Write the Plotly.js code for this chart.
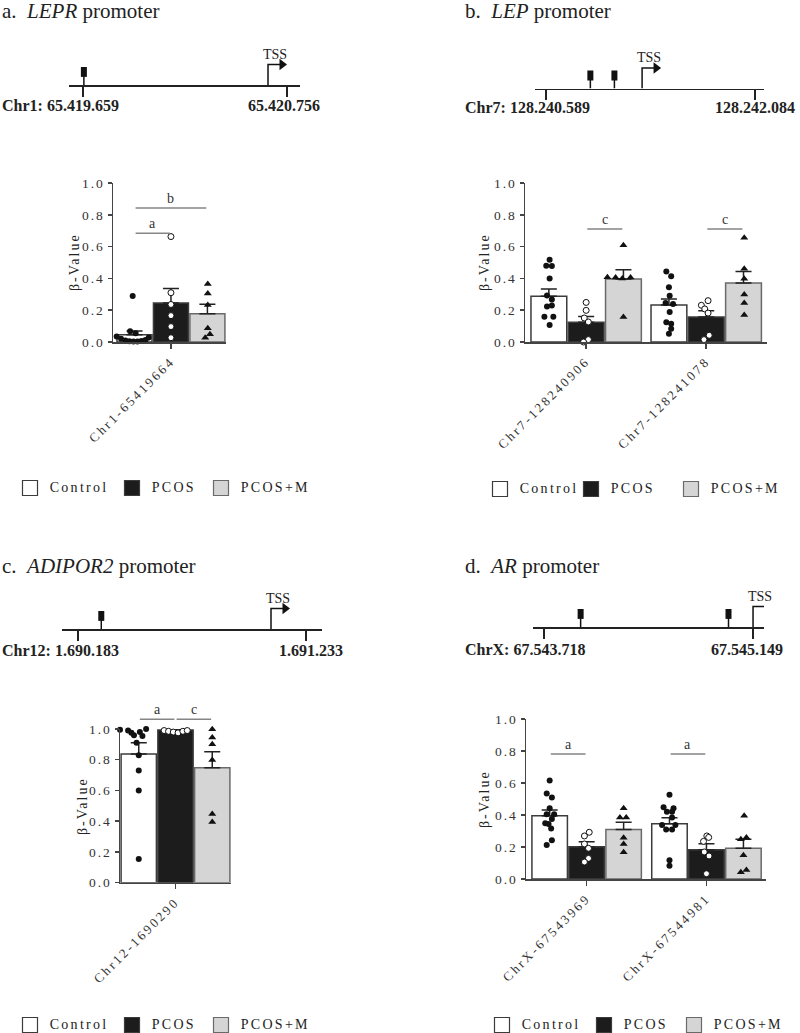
<!DOCTYPE html>
<html>
<head>
<meta charset="utf-8">
<script src="https://cdn.plot.ly/plotly-3.0.1.min.js"></script>
<style>
  body { margin: 0; background: #fff; }
  #fig { width: 800px; height: 1033px; }
  #fig .xaxislayer-above text { letter-spacing: 2.5px; }
  #fig .yaxislayer-above text { letter-spacing: 2px; }
  #fig g.textpoint text { letter-spacing: 2.3px; }
  #fig .annotation[data-index="0"] .annotation-text,
  #fig .annotation[data-index="1"] .annotation-text,
  #fig .annotation[data-index="2"] .annotation-text,
  #fig .annotation[data-index="3"] .annotation-text { letter-spacing: 2px; }
</style>
</head>
<body>
<div id="fig"></div>
<script>
// groups, in drawing order
var groups = ['Control', 'PCOS', 'PCOS+M'];

// a. LEPR  (arrays are [group][site])
var leprSites = ['Chr1-65419664'];
var leprMean = [[0.045], [0.245], [0.177]];
var leprSem  = [[0.024], [0.092], [0.060]];
var leprPts = [
  [[0.29, 0.067, 0.055, 0.035, 0.02, 0.01, 0.005, 0.003, 0.003, 0.006, 0.012, 0.028]],
  [[0.663, 0.31, 0.236, 0.166, 0.097, 0.027]],
  [[0.364, 0.305, 0.232, 0.086, 0.048, 0.027]]
];
var leprJit = [
  [[-0.05, -0.12, 0.03, -0.49, -0.37, -0.25, -0.14, -0.03, 0.08, 0.19, 0.30, 0.39]],
  [[0, 0, 0, 0, 0, 0]],
  [[0.01, 0.01, 0.01, 0.01, 0.07, -0.06]]
];
var leprSig = [[0, 0, 1, 0.684, 'a'], [0, 0, 2, 0.842, 'b']]; // site, from, to, height, letter

// b. LEP
var lepSites = ['Chr7-128240906', 'Chr7-128241078'];
var lepMean = [[0.287, 0.233], [0.124, 0.157], [0.396, 0.371]];
var lepSem  = [[0.046, 0.037], [0.037, 0.040], [0.059, 0.073]];
var lepPts = [
  [[0.518, 0.480, 0.478, 0.400, 0.293, 0.268, 0.229, 0.224, 0.159, 0.159, 0.107],
   [0.444, 0.413, 0.344, 0.291, 0.245, 0.239, 0.189, 0.124, 0.115, 0.084, 0.052]],
  [[0.249, 0.199, 0.151, 0.126, 0.015, 0.0],
   [0.260, 0.231, 0.208, 0.182, 0.042, 0.015]],
  [[0.608, 0.407, 0.405, 0.400, 0.405, 0.157],
   [0.656, 0.461, 0.398, 0.298, 0.245, 0.170]]
];
var lepJit = [
  [[0.02, -0.07, 0.08, 0.02, -0.05, 0.08, 0.08, -0.05, -0.12, 0.12, 0.02],
   [-0.07, 0.06, 0, 0.02, -0.09, 0.11, 0.02, -0.07, 0.06, 0.06, 0]],
  [[0, 0, -0.05, 0.06, 0.06, -0.07],
   [0.05, -0.13, -0.04, 0.05, 0.08, -0.06]],
  [[0, -0.43, -0.21, -0.03, 0.19, 0],
   [0.02, 0.02, 0.02, 0.02, 0.02, 0.02]]
];
var lepSig = [[0, 1, 2, 0.711, 'c'], [1, 1, 2, 0.711, 'c']];

// c. ADIPOR2
var adiSites = ['Chr12-1690290'];
var adiMean = [[0.837], [0.993], [0.748]];
var adiSem  = [[0.074], [0.004], [0.104]];
var adiPts = [
  [[0.995, 0.99, 1.0, 0.975, 0.98, 0.96, 0.955, 0.91, 0.83, 0.73, 0.60, 0.155]],
  [[0.99, 0.985, 0.98, 0.975, 0.985, 0.99]],
  [[0.998, 0.944, 0.900, 0.798, 0.447, 0.395]]
];
var adiJit = [
  [[-0.51, -0.29, 0.2, -0.2, 0.03, -0.13, 0.10, -0.06, 0, 0, 0, 0]],
  [[-0.31, -0.19, -0.06, 0.07, 0.2, 0.32]],
  [[0, 0, 0, 0, 0, 0]]
];
var adiSig = [[0, 0, 1, 1.063, 'a'], [0, 1, 2, 1.063, 'c']];

// d. AR
var arSites = ['ChrX-67543969', 'ChrX-67544981'];
var arMean = [[0.396, 0.346], [0.202, 0.183], [0.310, 0.192]];
var arSem  = [[0.035, 0.037], [0.031, 0.038], [0.044, 0.056]];
var arPts = [
  [[0.615, 0.535, 0.510, 0.442, 0.404, 0.404, 0.375, 0.348, 0.344, 0.315, 0.242, 0.212],
   [0.527, 0.448, 0.442, 0.421, 0.421, 0.385, 0.337, 0.310, 0.310, 0.337, 0.117, 0.083]],
  [[0.269, 0.292, 0.219, 0.192, 0.129, 0.106],
   [0.235, 0.269, 0.260, 0.169, 0.144, 0.033]],
  [[0.442, 0.385, 0.385, 0.258, 0.219, 0.167],
   [0.396, 0.248, 0.260, 0.148, 0.042, 0.056]]
];
var arJit = [
  [[0, -0.08, 0.06, 0, 0.12, -0.08, 0.06, -0.12, -0.03, 0.04, 0.06, -0.08],
   [0, -0.16, 0.11, -0.07, 0.07, 0.07, -0.2, -0.09, 0.07, 0.16, 0, 0]],
  [[-0.06, 0.07, -0.06, 0.05, 0.05, -0.06],
   [-0.08, 0.01, 0.06, -0.06, 0.07, 0]],
  [[0, -0.1, 0.07, 0, 0, 0],
   [0.02, -0.07, 0.08, 0, -0.07, 0.08]]
];
var arSig = [[0, 0, 1, 0.781, 'a'], [1, 0, 1, 0.781, 'a']];

// promoter maps (bp)
var leprEnds = [65419659, 65420756], leprCpG = [65419664], leprTss = 65420654, leprSpan = [65419584, 65420826];
var lepEnds = [128240589, 128242084], lepCpG = [128240906, 128241078], lepTss = 128241276, lepSpan = [128240510, 128242148];
var adiEnds = [1690183, 1691233], adiCpG = [1690290], adiTss = 1691072, adiSpan = [1690109, 1691307];
var arEnds = [67543718, 67545149], arCpG = [67543969, 67544981], arTss = 67545149, arSpan = [67543643, 67545224];

// ---- layout helpers ----
var W = 800, H = 1033;
function px(x) { return x / W; }
function py(y) { return 1 - y / H; }
function dots(n) { return String(n).replace(/\B(?=(\d{3})+(?!\d))/g, '.'); }

var FONT = 'Liberation Serif, Times New Roman, serif';
var INK = '#222', AXC = '#444', SIG = '#858585';
var barFill = ['#ffffff', '#1c1c1c', '#d5d5d5'];
var barLine = ['#3c3c3c', '#3c3c3c', '#6a6a6a'];
var ptSym = ['circle', 'circle', 'triangle-up'];
var ptFill = ['#111', '#fff', '#111'];
var ptSize = [6, 6, 7];

var panels = [
  {tag: 'a.', gene: 'LEPR', chr: 'Chr1', sites: leprSites, mean: leprMean, sem: leprSem, pts: leprPts, jit: leprJit, sig: leprSig,
   ends: leprEnds, cpg: leprCpG, tss: leprTss, span: leprSpan,
   centers: [0], xr: [-1.59, 1.51], bx: [113, 226], by: [342, 183],
   title: [0, 11], mapX: [69, 300], mapY: 85, lab: [0, 322, 106], ytit: [74, 262],
   legX: [30, 132, 221], legY: 488},
  {tag: 'b.', gene: 'LEP', chr: 'Chr7', sites: lepSites, mean: lepMean, sem: lepSem, pts: lepPts, jit: lepJit, sig: lepSig,
   ends: lepEnds, cpg: lepCpG, tss: lepTss, span: lepSpan,
   centers: [0, 3.22], xr: [-1.64, 4.85], bx: [525, 767], by: [342, 183],
   title: [463, 11], mapX: [535, 764], mapY: 88.5, lab: [463, 797, 107], ytit: [484, 262],
   legX: [500, 591, 691], legY: 489},
  {tag: 'c.', gene: 'ADIPOR2', chr: 'Chr12', sites: adiSites, mean: adiMean, sem: adiSem, pts: adiPts, jit: adiJit, sig: adiSig,
   ends: adiEnds, cpg: adiCpG, tss: adiTss, span: adiSpan,
   centers: [0], xr: [-1.51, 1.51], bx: [120, 231], by: [882.7, 729], sigAbove: true,
   title: [0, 566], mapX: [62, 322], mapY: 629, lab: [0, 345, 650], ytit: [82, 806],
   legX: [30, 132, 221], legY: 1025},
  {tag: 'd.', gene: 'AR', chr: 'ChrX', sites: arSites, mean: arMean, sem: arSem, pts: arPts, jit: arJit, sig: arSig,
   ends: arEnds, cpg: arCpG, tss: arTss, span: arSpan,
   centers: [0, 3.24], xr: [-1.64, 4.85], bx: [526, 766], by: [879, 719],
   title: [463, 566], mapX: [533, 764], mapY: 627, lab: [463, 785, 649], ytit: [484, 799],
   legX: [502, 604, 694], legY: 1025}
];

var traces = [];
var titleAnn = [], otherAnn = [];
var layout = {
  width: W, height: H,
  margin: {l: 0, r: 0, t: 0, b: 0},
  paper_bgcolor: '#fff', plot_bgcolor: 'rgba(0,0,0,0)',
  barmode: 'overlay',
  showlegend: false,
  font: {family: FONT, color: INK}
};

function sfx(i) { return i === 1 ? '' : String(i); }

// legend keys are drawn on one page-sized overlay axis measured in pixels
layout.xaxis10 = {domain: [0, 1], range: [0, W], anchor: 'y10', visible: false, fixedrange: true};
layout.yaxis10 = {domain: [0, 1], range: [H, 0], anchor: 'x10', visible: false, fixedrange: true};
var keyX = [], keyY = [], keyText = [], keyFill = [], keyLine = [];

panels.forEach(function (p, k) {
  var bi = k + 1, mi = k + 5;
  var xa = 'x' + sfx(bi), ya = 'y' + sfx(bi);

  // bar axes
  layout['xaxis' + sfx(bi)] = {
    domain: [px(p.bx[0]), px(p.bx[1])], range: p.xr, anchor: ya,
    tickmode: 'array', tickvals: p.centers, ticktext: p.sites, tickangle: -45,
    ticks: 'outside', ticklen: 5, tickwidth: 1.5, tickcolor: AXC,
    showline: true, linecolor: AXC, linewidth: 1.5,
    showgrid: false, zeroline: false, fixedrange: true,
    tickfont: {family: FONT, size: 13, color: '#333'}
  };
  layout['yaxis' + sfx(bi)] = {
    domain: [py(p.by[0]), py(p.by[1])], range: [0, 1], anchor: xa,
    tickmode: 'array', tickvals: [0, 0.2, 0.4, 0.6, 0.8, 1.0], tickformat: '.1f',
    ticks: 'outside', ticklen: 4, tickwidth: 1.5, tickcolor: AXC,
    showline: true, linecolor: AXC, linewidth: 1.5,
    showgrid: false, zeroline: false, fixedrange: true,
    tickfont: {family: FONT, size: 13.5, color: '#333'}
  };

  // bars + scattered points
  groups.forEach(function (g, gi) {
    var off = gi - 1;
    traces.push({
      type: 'bar', name: g, xaxis: xa, yaxis: ya,
      x: p.centers.map(function (c) { return c + off; }),
      y: p.mean[gi], width: 0.96,
      marker: {color: barFill[gi], line: {color: barLine[gi], width: 1.5}},
      error_y: {type: 'data', symmetric: false, array: p.sem[gi],
                arrayminus: p.sem[gi].map(function () { return 0; }),
                thickness: 1.5, width: 8, color: '#222'},
      hoverinfo: 'skip'
    });
    var xs = [], ys = [];
    p.centers.forEach(function (c, s) {
      p.pts[gi][s].forEach(function (v, j) {
        xs.push(c + off + p.jit[gi][s][j]);
        ys.push(v);
      });
    });
    traces.push({
      type: 'scatter', mode: 'markers', xaxis: xa, yaxis: ya,
      x: xs, y: ys, cliponaxis: false, hoverinfo: 'skip',
      marker: {symbol: ptSym[gi], size: ptSize[gi], color: ptFill[gi],
               line: {color: '#111', width: gi === 1 ? 1 : 0}}
    });

    keyX.push(p.legX[gi]); keyY.push(p.legY); keyText.push(g);
    keyFill.push(barFill[gi]); keyLine.push(barLine[gi]);
  });

  // significance bars (panel c sits above its own y range, so it gets an overlay subplot)
  var sx = xa, sy = ya;
  if (p.sigAbove) {
    sx = 'x9'; sy = 'y9';
    var unit = (p.by[0] - p.by[1]);
    layout.xaxis9 = {domain: [px(p.bx[0]), px(p.bx[1])], range: p.xr, anchor: 'y9', visible: false, fixedrange: true};
    layout.yaxis9 = {domain: [py(p.by[1]), py(p.by[1] - 0.15 * unit)], range: [1.0, 1.15], anchor: 'x9', visible: false, fixedrange: true};
  }
  var lx = [], ly = [];
  p.sig.forEach(function (s) {
    var x0 = p.centers[s[0]] + s[1] - 1 + 0.03;
    var x1 = p.centers[s[0]] + s[2] - 1 - 0.03;
    lx.push(x0, x1, null); ly.push(s[3], s[3], null);
    otherAnn.push({xref: sx, yref: sy, x: (x0 + x1) / 2, y: s[3], text: s[4], showarrow: false,
                   xanchor: 'center', yanchor: 'bottom', yshift: 0,
                   font: {family: FONT, size: 14, color: '#333'}});
  });
  traces.push({type: 'scatter', mode: 'lines', xaxis: sx, yaxis: sy,
               x: lx, y: ly, line: {color: SIG, width: 1.5}, hoverinfo: 'skip'});

  // promoter map
  var mx = 'x' + mi, my = 'y' + mi;
  layout['xaxis' + mi] = {
    domain: [px(p.mapX[0]), px(p.mapX[1])], range: p.span, anchor: my,
    tickmode: 'array', tickvals: p.ends, showticklabels: false,
    ticks: 'outside', ticklen: 10, tickwidth: 1.5, tickcolor: '#222',
    showline: true, linecolor: '#222', linewidth: 1.5,
    showgrid: false, zeroline: false, fixedrange: true
  };
  layout['yaxis' + mi] = {domain: [py(p.mapY), py(p.mapY - 30)], range: [0, 1], anchor: mx, visible: false, fixedrange: true};

  var stX = [], stY = [], blX = [], blY = [];
  p.cpg.forEach(function (c) {
    stX.push(c, c, null); stY.push(0, 0.3, null);
    blX.push(c, c, null); blY.push(0.27, 0.6, null);
  });
  traces.push({type: 'scatter', mode: 'lines', xaxis: mx, yaxis: my,
               x: stX, y: stY, line: {color: '#111', width: 1.5}, hoverinfo: 'skip'});
  traces.push({type: 'scatter', mode: 'lines', xaxis: mx, yaxis: my,
               x: blX, y: blY, line: {color: '#111', width: 6}, hoverinfo: 'skip'});

  var bpPerPx = (p.span[1] - p.span[0]) / (p.mapX[1] - p.mapX[0]);
  var tip = p.tss + 14 * bpPerPx;
  traces.push({type: 'scatter', mode: 'lines', xaxis: mx, yaxis: my,
               x: [p.tss, p.tss, tip], y: [0, 0.68, 0.68], cliponaxis: false,
               line: {color: '#111', width: 1.5}, hoverinfo: 'skip'});
  traces.push({type: 'scatter', mode: 'markers', xaxis: mx, yaxis: my,
               x: [tip], y: [0.68], cliponaxis: false,
               marker: {symbol: 'triangle-right', size: 10, color: '#111'}, hoverinfo: 'skip'});
  otherAnn.push({xref: mx, yref: my, x: p.tss, y: 0.68, text: 'TSS', showarrow: false,
                 xanchor: 'center', yanchor: 'bottom', xshift: 7, yshift: 1,
                 font: {family: FONT, size: 14, color: INK}});

  // labels and titles
  otherAnn.push({xref: 'paper', yref: 'paper', x: px(p.lab[0]), y: py(p.lab[2]), xanchor: 'left', yanchor: 'middle',
                 text: '<b>' + p.chr + ': ' + dots(p.ends[0]) + '</b>', showarrow: false,
                 font: {family: FONT, size: 16, color: INK}});
  otherAnn.push({xref: 'paper', yref: 'paper', x: px(p.lab[1]), y: py(p.lab[2]), xanchor: 'right', yanchor: 'middle',
                 text: '<b>' + dots(p.ends[1]) + '</b>', showarrow: false,
                 font: {family: FONT, size: 16, color: INK}});
  otherAnn.push({xref: 'paper', yref: 'paper', x: px(p.title[0]), y: py(p.title[1]), xanchor: 'left', yanchor: 'middle',
                 text: p.tag + '\u00a0 <i>' + p.gene + '</i> promoter', showarrow: false,
                 font: {family: FONT, size: 21, color: INK}});

  titleAnn.push({xref: 'paper', yref: 'paper', x: px(p.ytit[0]), y: py(p.ytit[1]), textangle: -90,
                 xanchor: 'center', yanchor: 'middle', text: 'β-Value', showarrow: false,
                 font: {family: FONT, size: 14, color: INK}});
});

// legend keys: square swatch + spaced label, one set per panel
traces.push({
  type: 'scatter', mode: 'markers+text', xaxis: 'x10', yaxis: 'y10',
  x: keyX, y: keyY, text: keyText.map(function (t) { return '\u2002' + t; }),
  textposition: 'middle right', cliponaxis: false, hoverinfo: 'skip',
  textfont: {family: FONT, size: 14, color: INK},
  marker: {symbol: 'square', size: 15, color: keyFill, line: {color: keyLine, width: 1.2}}
});

layout.annotations = titleAnn.concat(otherAnn);

Plotly.newPlot('fig', traces, layout, {displayModeBar: false, staticPlot: true});
</script>
</body>
</html>
